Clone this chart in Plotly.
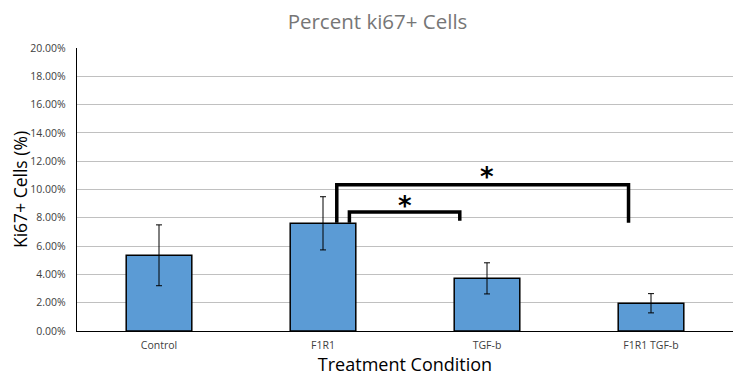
import plotly.graph_objects as go

categories = ["Control", "F1R1", "TGF-b", "F1R1 TGF-b"]
values = [0.0535, 0.0761, 0.0372, 0.0196]
errors = [0.0215, 0.0188, 0.0110, 0.0068]

# significance brackets
big_bracket = dict(x0=1.084, x1=2.863, top=0.1034, yl=0.0765, yr=0.0765)
small_bracket = dict(x0=1.161, x1=1.834, top=0.0841, yl=0.0765, yr=0.0780)
star_big = (2.0, 0.1085)
star_small = (1.50, 0.0880)

fig = go.Figure()
fig.add_trace(go.Bar(
    x=list(range(len(categories))), y=values,
    width=0.40,
    marker=dict(color="#5b9bd5", line=dict(color="black", width=1.5)),
    error_y=dict(type="data", array=errors, color="black", thickness=1, width=3),
))

shapes = []
for b in (big_bracket, small_bracket):
    path = (f"M {b['x0']},{b['yl']} L {b['x0']},{b['top']} "
            f"L {b['x1']},{b['top']} L {b['x1']},{b['yr']}")
    shapes.append(dict(type="path", path=path, xref="x", yref="y",
                       line=dict(color="black", width=3.5)))

annotations = [
    dict(x=sx, y=sy, xref="x", yref="y",
         text="<b>*</b>", showarrow=False, font=dict(size=26, color="black", family="DejaVu Sans"),
         yanchor="middle")
    for sx, sy in (star_big, star_small)
]

# page body adds an 8px margin, so the figure is 8px smaller on each axis
fig.update_layout(
    width=739, height=368,
    margin=dict(l=69, r=14, t=40, b=45),
    paper_bgcolor="white", plot_bgcolor="white",
    showlegend=False,
    font=dict(family="Open Sans", color="#404040"),
    title=dict(text="Percent ki67+ Cells", x=0.50, xanchor="center", y=0.962, yanchor="middle",
               font=dict(size=20.5, color="#767676", family="Open Sans")),
    xaxis=dict(
        tickmode="array", tickvals=list(range(len(categories))), ticktext=categories,
        range=[-0.5, 3.5], showgrid=False, zeroline=False, automargin=False,
        showline=True, linecolor="black", linewidth=1.2, ticks="", ticklabelstandoff=4,
        tickfont=dict(size=10.5, color="#404040"),
        title=dict(text="Treatment Condition", font=dict(size=18, color="black"), standoff=6),
    ),
    yaxis=dict(
        range=[0, 0.20], dtick=0.02, tickformat=".2%", automargin=False,
        showgrid=True, gridcolor="#c0c0c0", gridwidth=1, zeroline=False,
        showline=True, linecolor="black", linewidth=1.2, ticks="", ticklabelstandoff=8,
        tickfont=dict(size=10.5, color="#404040"),
        title=dict(text="Ki67+ Cells (%)", font=dict(size=17.5, color="black"), standoff=8),
    ),
    shapes=shapes,
    annotations=annotations,
    bargap=0.6,
)

fig.write_html("out.html")
